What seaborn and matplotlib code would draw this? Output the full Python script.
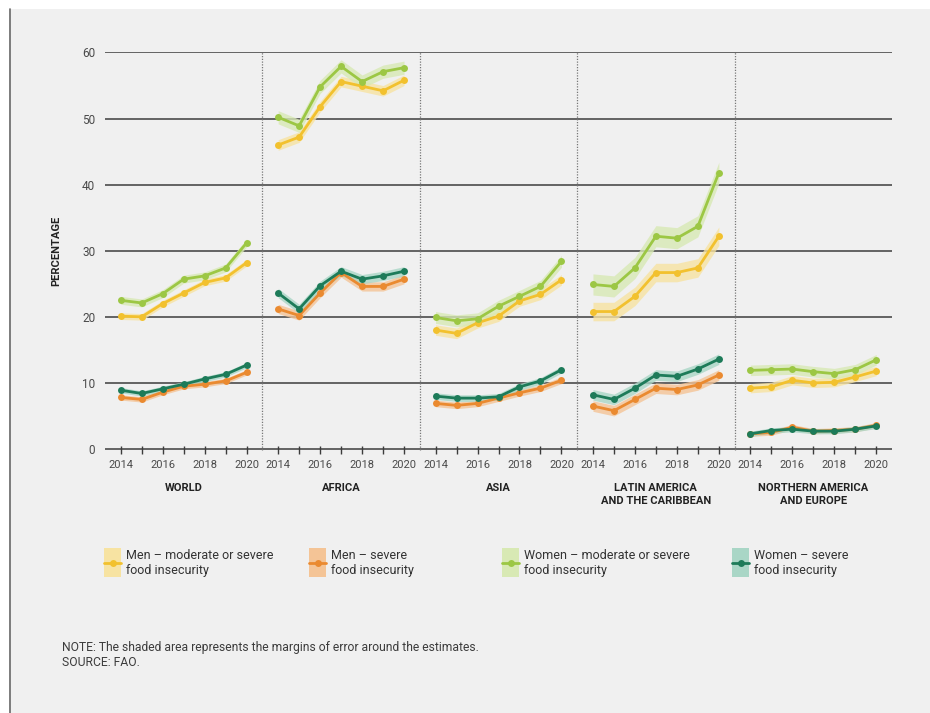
import numpy as np
import pandas as pd
import seaborn as sns
from matplotlib import pyplot as plt
from matplotlib.patches import Rectangle
from matplotlib.lines import Line2D

# Data (percent of population)
years = [2014, 2015, 2016, 2017, 2018, 2019, 2020]
regions = ["WORLD", "AFRICA", "ASIA", "LATIN AMERICA\nAND THE CARIBBEAN", "NORTHERN AMERICA\nAND EUROPE"]
series = ["Men – moderate or severe\nfood insecurity", "Men – severe\nfood insecurity",
          "Women – moderate or severe\nfood insecurity", "Women – severe\nfood insecurity"]

men_moderate = {
    "WORLD": [20.1, 20.0, 22.0, 23.6, 25.2, 25.9, 28.2],
    "AFRICA": [46.0, 47.2, 51.8, 55.6, 54.9, 54.2, 55.8],
    "ASIA": [18.0, 17.5, 19.1, 20.1, 22.4, 23.4, 25.6],
    "LATAM": [20.8, 20.8, 23.1, 26.7, 26.7, 27.4, 32.2],
    "NAE": [9.2, 9.4, 10.4, 10.0, 10.1, 10.9, 11.8],
}
men_severe = {
    "WORLD": [7.8, 7.5, 8.6, 9.5, 9.8, 10.3, 11.6],
    "AFRICA": [21.2, 20.2, 23.6, 26.7, 24.6, 24.6, 25.7],
    "ASIA": [6.9, 6.6, 6.9, 7.7, 8.5, 9.2, 10.4],
    "LATAM": [6.5, 5.8, 7.5, 9.2, 9.0, 9.7, 11.2],
    "NAE": [2.3, 2.5, 3.3, 2.7, 2.8, 3.0, 3.6],
}
women_moderate = {
    "WORLD": [22.5, 22.1, 23.5, 25.7, 26.2, 27.4, 31.2],
    "AFRICA": [50.2, 48.9, 54.8, 57.9, 55.6, 57.1, 57.7],
    "ASIA": [19.9, 19.4, 19.7, 21.6, 23.1, 24.6, 28.4],
    "LATAM": [24.9, 24.6, 27.4, 32.2, 31.9, 33.7, 41.8],
    "NAE": [11.9, 12.0, 12.1, 11.7, 11.4, 12.0, 13.5],
}
women_severe = {
    "WORLD": [8.9, 8.4, 9.1, 9.8, 10.6, 11.3, 12.7],
    "AFRICA": [23.6, 21.2, 24.7, 26.9, 25.7, 26.2, 26.9],
    "ASIA": [8.0, 7.7, 7.7, 7.9, 9.4, 10.3, 12.0],
    "LATAM": [8.2, 7.5, 9.2, 11.2, 11.0, 12.1, 13.6],
    "NAE": [2.3, 2.8, 3.0, 2.7, 2.7, 3.0, 3.5],
}
# estimated margins of error (+/-), one per series per region
margins = {
    "WORLD": [0.5, 0.4, 0.6, 0.4],
    "AFRICA": [0.8, 0.7, 1.0, 0.7],
    "ASIA": [0.8, 0.5, 0.9, 0.5],
    "LATAM": [1.4, 0.8, 1.6, 0.8],
    "NAE": [0.7, 0.4, 0.8, 0.4],
}
region_keys = ["WORLD", "AFRICA", "ASIA", "LATAM", "NAE"]

line_colors = ["#f2c12e", "#ea8a30", "#9cc744", "#1d7b59"]
band_colors = ["#f7e3a2", "#f4c496", "#d8e9b4", "#a9d6c6"]

rows = []
for key in region_keys:
    for name, d in zip(series, [men_moderate, men_severe, women_moderate, women_severe]):
        for y, v in zip(years, d[key]):
            rows.append({"region": key, "series": name, "year": y, "value": v})
df = pd.DataFrame(rows)

sns.set_theme(style="white", rc={"axes.facecolor": "none"})
plt.rcParams["font.family"] = ["Roboto", "DejaVu Sans"]

W, H = 930, 713
fig = plt.figure(figsize=(W / 100, H / 100), dpi=100, facecolor="white")
fig.patches.append(Rectangle((11 / W, 0), 1 - 11 / W, 1 - 9 / H, transform=fig.transFigure,
                             facecolor="#f0f0f0", edgecolor="none", zorder=-10))
fig.add_artist(Line2D([10 / W, 10 / W], [0, 1 - 9 / H], color="#666666", lw=1.2))

x0, x1, ybot, ytop = 105, 892, 450, 51.5
pw = (x1 - x0) / 5
palette = dict(zip(series, line_colors))
axes = []
for i, (key, label) in enumerate(zip(region_keys, regions)):
    ax = fig.add_axes([(x0 + i * pw) / W, 1 - ybot / H, pw / W, (ybot - ytop) / H])
    axes.append(ax)
    sub = df[df["region"] == key]
    for name, bc, m in zip(series, band_colors, margins[key]):
        s = sub[sub["series"] == name]
        ax.fill_between(s["year"], s["value"] - m, s["value"] + m, color=bc, lw=0, alpha=0.8, zorder=1)
    sns.lineplot(data=sub, x="year", y="value", hue="series", palette=palette, marker="o",
                 markersize=5, markeredgewidth=0, linewidth=2, legend=False, ax=ax, zorder=3)
    ax.set_xlim(2013.25, 2020.75)
    ax.set_ylim(-0.15, 60.15)
    for s in ax.spines.values():
        s.set_visible(False)
    for g in range(0, 61, 10):
        ax.axhline(g, color="#3c3c3c", lw=1.1, zorder=0)
    if i > 0:
        ax.axvline(2013.25, ymin=0, ymax=1, color="#777777", lw=0.9, ls=(0, (1, 1.2)), clip_on=False, zorder=0)
    ax.set_xticks([2014, 2016, 2018, 2020])
    ax.set_xticks([2015, 2017, 2019], minor=True)
    ax.tick_params(axis="x", which="both", direction="inout", length=6, width=1, color="#3c3c3c",
                   pad=4, labelsize=8, labelcolor="#4a4a4a", bottom=True)
    ax.set_xlabel("")
    ax.set_ylabel("")
    ax.set_yticks(range(0, 61, 10))
    if i == 0:
        ax.tick_params(axis="y", length=0, pad=7, labelsize=8.5, labelcolor="#4a4a4a")
    else:
        ax.tick_params(axis="y", length=0, labelleft=False)
    ax.text(0.5, -0.083, label, transform=ax.transAxes, ha="center", va="top",
            fontsize=8, fontweight="bold", color="#222222", linespacing=1.35)

axes[0].set_ylabel("PERCENTAGE", fontsize=8, fontweight="bold", color="#222222", labelpad=15)

# legend drawn by hand under the panels
leg = fig.add_axes([0, 0, 1, 1], facecolor="none")
leg.set_xlim(0, W)
leg.set_ylim(H, 0)
leg.axis("off")
for px, name, lc, bc in zip([104, 309, 502, 732], series, line_colors, band_colors):
    leg.add_patch(Rectangle((px, 548), 17, 29, facecolor=bc, edgecolor="none"))
    leg.plot([px, px + 17], [563, 563], color=lc, lw=2)
    leg.plot([px + 8.5], [563], marker="o", color=lc, markersize=5, markeredgewidth=0)
    leg.text(px + 22, 563, name, ha="left", va="center", fontsize=9, color="#333333", linespacing=1.15)

leg.text(62, 655, "NOTE: The shaded area represents the margins of error around the estimates.\nSOURCE: FAO.",
         ha="left", va="center", fontsize=8.7, color="#3c3c3c", linespacing=1.25)

fig.savefig("out.png", dpi=100, facecolor=fig.get_facecolor())
